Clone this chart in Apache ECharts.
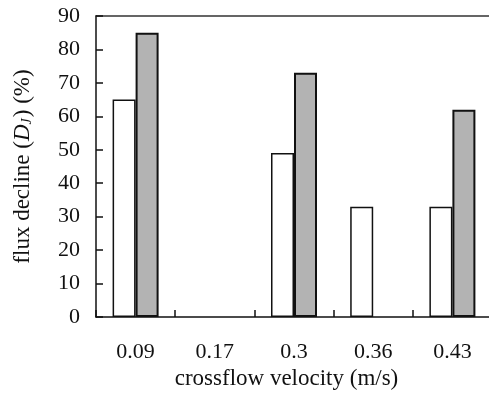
<!DOCTYPE html>
<html>
<head>
<meta charset="utf-8">
<script src="https://cdn.jsdelivr.net/npm/echarts@6/dist/echarts.min.js"></script>
<style>
  html, body { margin: 0; padding: 0; background: #fff; }
  #chart { width: 489px; height: 394px; }
</style>
</head>
<body>
<div id="chart"></div>
<script>
// Crossflow velocities (m/s) on the category axis
const velocities = ['0.09', '0.17', '0.3', '0.36', '0.43'];
// Flux decline D_J (%) for the two conditions; null where no run was made
const declineOpen = [65, null, 49, 33, 33];
const declineGrey = [85, null, 73, null, 62];
// Value axis range
const yMin = 0, yMax = 90, yStep = 10;

const serif = '"Liberation Serif", "Times New Roman", serif';
const ink = '#111';

const chart = echarts.init(document.getElementById('chart'), null, { renderer: 'canvas' });

chart.setOption({
  animation: false,
  backgroundColor: '#fff',
  grid: { left: 96, top: 16, width: 396, height: 301, containLabel: false, outerBoundsMode: 'none' },
  xAxis: [{
    type: 'category',
    data: velocities,
    position: 'bottom',
    boundaryGap: true,
    axisLine: { show: true, lineStyle: { color: ink, width: 1.5 } },
    axisTick: { show: true, inside: true, length: 7, lineStyle: { color: ink, width: 1.5 } },
    axisLabel: { color: ink, fontFamily: serif, fontSize: 22, margin: 24 },
    name: 'crossflow velocity (m/s)',
    nameLocation: 'middle',
    nameGap: 50,
    nameTextStyle: { color: ink, fontFamily: serif, fontSize: 23, padding: [0, 15, 0, 0] },
    splitLine: { show: false }
  }, {
    type: 'category',
    data: velocities,
    position: 'top',
    axisLine: { show: true, lineStyle: { color: '#333', width: 1.5 } },
    axisTick: { show: false },
    axisLabel: { show: false },
    splitLine: { show: false }
  }],
  yAxis: {
    type: 'value',
    min: yMin,
    max: yMax,
    interval: yStep,
    axisLine: { show: true, lineStyle: { color: ink, width: 1.5 } },
    axisTick: { show: true, inside: true, length: 7, lineStyle: { color: ink, width: 1.5 } },
    axisLabel: { color: ink, fontFamily: serif, fontSize: 22, margin: 16 },
    splitLine: { show: false },
    name: '{t|flux decline (}{i|D}{s|J}{t|) (%)}',
    nameLocation: 'middle',
    nameRotate: 90,
    nameGap: 62,
    nameTextStyle: {
      color: ink,
      fontFamily: serif,
      fontSize: 23,
      rich: {
        t: { color: ink, fontFamily: serif, fontSize: 23, lineHeight: 23, verticalAlign: 'top' },
        i: { color: ink, fontFamily: serif, fontSize: 23, lineHeight: 23, fontStyle: 'italic', verticalAlign: 'top' },
        s: { color: ink, fontFamily: serif, fontSize: 14, lineHeight: 14, fontStyle: 'italic', verticalAlign: 'bottom', padding: [13, 1, 0, 0] }
      }
    }
  },
  series: [{
    type: 'bar',
    data: declineOpen,
    barWidth: 23,
    barGap: '0%',
    itemStyle: { color: '#fff', borderColor: ink, borderWidth: 1.5 }
  }, {
    type: 'bar',
    data: declineGrey,
    barWidth: 23,
    barGap: '0%',
    itemStyle: { color: '#b3b3b3', borderColor: ink, borderWidth: 2 }
  }]
});
</script>
</body>
</html>
